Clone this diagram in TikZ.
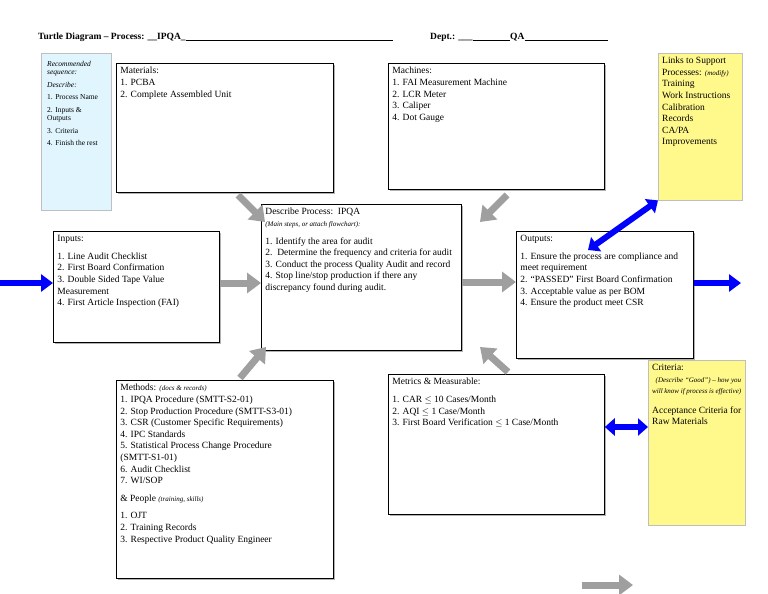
\documentclass[tikz,border=0pt]{standalone}
\usepackage{fontspec}
\setmainfont{Liberation Serif}
\usetikzlibrary{arrows.meta,shadows}
\newcommand{\smit}[1]{{\fontsize{7}{8}\selectfont\itshape #1}}
\newcommand{\bxt}[3]{\parbox[t][#2][t]{#1}{\raggedright\hyphenpenalty=10000\exhyphenpenalty=10000 #3}}
\begin{document}
\begin{tikzpicture}[x=1pt,y=-1pt,
  box/.style={draw,thick,fill=white,anchor=north west,inner sep=4pt,
    font=\fontsize{9.5}{11.6}\selectfont,drop shadow={shadow xshift=2pt,shadow yshift=-2pt,fill=gray!60,opacity=1}},
  note/.style={draw=gray!50,anchor=north west,inner sep=4pt,font=\fontsize{9.5}{11.6}\selectfont},
  garrow/.style={draw=gray!75,line width=7pt,-{Triangle[length=14pt,width=20pt]}},
  barrow/.style={draw=blue,line width=6pt,-{Triangle[length=12pt,width=17pt]}},
  dbarrow/.style={draw=blue,line width=6pt,{Triangle[length=10pt,width=17pt]}-{Triangle[length=10pt,width=17pt]}}]
\useasboundingbox (0,0) rectangle (768,594);
% title
\node[anchor=base west,font=\bfseries\fontsize{9.5}{11}\selectfont,inner sep=0] (title) at (38,40) {Turtle Diagram -- Process: \_\_IPQA\_};
\draw (title.base east) -- (393,40);
\node[anchor=base west,font=\bfseries\fontsize{9.5}{11}\selectfont,inner sep=0] (dept) at (430,40) {Dept.: \_\_\_};
\node[anchor=base west,font=\bfseries\fontsize{9.5}{11}\selectfont,inner sep=0] (qa) at (510,40) {QA};
\draw (dept.base east) -- (qa.base west) (qa.base east) -- (608,40);
% side notes
\node[note,fill=cyan!12,font=\fontsize{7.5}{8.5}\selectfont,inner xsep=6pt,inner ysep=8pt] (seq) at (41,53)
 {\bxt{58pt}{141pt}{\textit{Recommended sequence:}\\[4pt]\textit{Describe:}\\[4pt]1. Process Name\\[4pt]2. Inputs \& Outputs\\[4pt]3. Criteria\\[4pt]4. Finish the rest}};
\node[note,fill=yellow!45] (links) at (658,53)
 {\bxt{76pt}{139pt}{Links to Support Processes: \smit{(modify)}\\Training\\Work Instructions\\Calibration\\Records\\CA/PA\\Improvements}};
\node[note,fill=yellow!45] (crit) at (648,360)
 {\bxt{89pt}{157pt}{Criteria:\\\smit{\ \ (Describe ``Good'') -- how you will know if process is effective)}\\[8pt]Acceptance Criteria for Raw Materials}};
% boxes
\node[box] (mat) at (116,63) {\bxt{209pt}{121pt}{Materials:\\1. PCBA\\2. Complete Assembled Unit}};
\node[box] (mach) at (388,63) {\bxt{208pt}{118pt}{Machines:\\1. FAI Measurement Machine\\2. LCR Meter\\3. Caliper\\4. Dot Gauge}};
\node[box] (proc) at (261,204) {\bxt{192pt}{138pt}{Describe Process:\ \ IPQA\\\smit{(Main steps, or attach flowchart):}\\[6pt]1. Identify the area for audit\\2.\ \ Determine the frequency and criteria for audit\\3. Conduct the process Quality Audit and record\\4. Stop line/stop production if there any discrepancy found during audit.}};
\node[box] (in) at (53,231) {\bxt{158pt}{103pt}{Inputs:\\[6pt]1. Line Audit Checklist\\2. First Board Confirmation\\3. Double Sided Tape Value Measurement\\4. First Article Inspection (FAI)}};
\node[box] (out) at (516,231) {\bxt{169pt}{119pt}{Outputs:\\[6pt]1. Ensure the process are compliance and meet requirement\\2. ``PASSED'' First Board Confirmation\\3. Acceptable value as per BOM\\4. Ensure the product meet CSR}};
\node[box] (meth) at (116,380) {\bxt{209pt}{190pt}{Methods: \smit{(docs \& records)}\\1. IPQA Procedure (SMTT-S2-01)\\2. Stop Production Procedure (SMTT-S3-01)\\3. CSR (Customer Specific Requirements)\\4. IPC Standards\\5. Statistical Process Change Procedure (SMTT-S1-01)\\6. Audit Checklist\\7. WI/SOP\\[6pt]\& People \smit{(training, skills)}\\[6pt]1. OJT\\2. Training Records\\3. Respective Product Quality Engineer}};
\node[box] (met) at (388,374) {\bxt{208pt}{132pt}{Metrics \& Measurable:\\[6pt]1. CAR $\leq$ 10 Cases/Month\\2. AQI $\leq$ 1 Case/Month\\3. First Board Verification $\leq$ 1 Case/Month}};
% gray arrows
\coordinate (a1) at (238,195); \coordinate (a1e) at (265,222);
\draw[garrow] (a1) -- (a1e);
\coordinate (a2) at (507,195); \coordinate (a2e) at (480,222);
\draw[garrow] (a2) -- (a2e);
\draw[garrow] (in.east |- 0,283) -- (proc.west |- 0,283);
\draw[garrow] (proc.east |- 0,282) -- (out.west |- 0,282);
\coordinate (a5) at (240,378); \coordinate (a5e) at (266,347);
\draw[garrow] (a5) -- (a5e);
\coordinate (a6) at (508,372); \coordinate (a6e) at (480,347);
\draw[garrow] (a6) -- (a6e);
\coordinate (b1) at (582,585); \coordinate (b1e) at (633,585);
\draw[garrow] (b1) -- (b1e);
% blue arrows
\coordinate (l0) at (0,283);
\draw[barrow] (l0) -- (in.west |- 0,283);
\coordinate (r1) at (741,283);
\draw[barrow] (out.east |- 0,283) -- (r1);
\coordinate (d1) at (588,250);
\draw[dbarrow] (d1) -- (links.south west);
\draw[dbarrow] (met.east |- 0,427) -- (crit.west |- 0,427);
\end{tikzpicture}
\end{document}
